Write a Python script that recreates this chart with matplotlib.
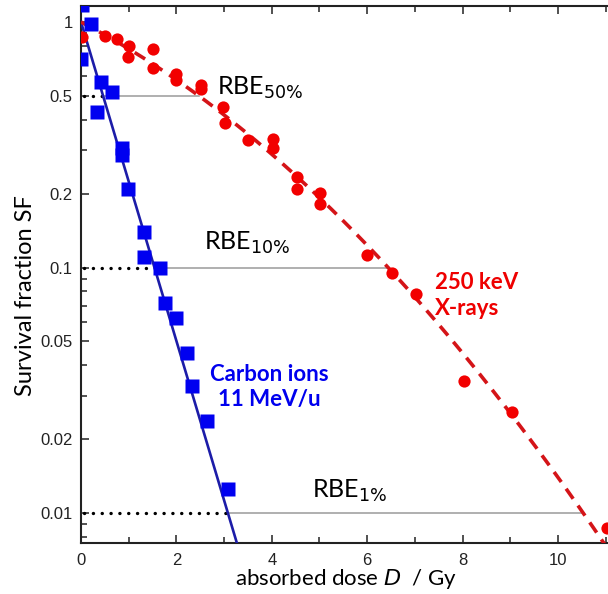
import numpy as np
import matplotlib.pyplot as plt
from matplotlib.ticker import FixedLocator, FixedFormatter, NullFormatter

# ---------------- data ----------------
# carbon ions 11 MeV/u (blue squares)
carbon_dose = [0.02, 0.21, 0.0, 0.42, 0.65, 0.34, 0.87, 0.87, 0.99, 1.32, 1.33,
               1.66, 1.76, 1.99, 2.22, 2.33, 2.65, 3.09]
carbon_sf = [1.17, 0.98, 0.71, 0.57, 0.52, 0.43, 0.307, 0.287, 0.209, 0.140, 0.110,
             0.100, 0.072, 0.0625, 0.0448, 0.0328, 0.0237, 0.0125]

# 250 keV X-rays (red circles)
xray_dose = [0.03, 0.50, 0.75, 1.0, 0.99, 1.5, 1.5, 2.0, 2.0, 2.51, 2.51, 2.98, 3.02,
             3.51, 4.02, 4.02, 4.52, 4.52, 5.01, 5.01, 6.0, 6.53, 7.02, 8.04, 9.04, 11.02]
xray_sf = [0.866, 0.877, 0.853, 0.80, 0.722, 0.776, 0.651, 0.614, 0.58, 0.553, 0.532,
           0.449, 0.389, 0.331, 0.333, 0.307, 0.233, 0.209, 0.2006, 0.181, 0.112,
           0.095, 0.078, 0.0344, 0.0259, 0.00866]

# fitted models: carbon  SF = exp(-a D), X-rays  SF = exp(-a D - b D^2)
alpha_c = 1.495
alpha_x, beta_x = 0.232, 0.0195

sf_levels = [0.5, 0.1, 0.01]
rbe_labels = ["RBE$_{50\\%}$", "RBE$_{10\\%}$", "RBE$_{1\\%}$"]

y_ticks = [0.01, 0.02, 0.05, 0.1, 0.2, 0.5, 1]
y_ticklabels = ["0.01", "0.02", "0.05", "0.1", "0.2", "0.5", "1"]
x_ticks = [0, 2, 4, 6, 8, 10]

# ---------------- figure ----------------
plt.rcParams['font.family'] = ['Lato', 'DejaVu Sans']
fig = plt.figure(figsize=(6.08, 5.94), dpi=100)
ax = fig.add_axes([0.1332, 0.0859, 0.8668, 0.904])

xmax = 11.05
ax.set_xlim(0, xmax)
ax.set_ylim(0.00755, 1.162)
ax.set_yscale('log')

# horizontal guides between the two curves
for sf in sf_levels:
    d_c = -np.log(sf) / alpha_c
    d_x = (-alpha_x + np.sqrt(alpha_x**2 - 4 * beta_x * np.log(sf))) / (2 * beta_x)
    ax.plot([d_c, d_x], [sf, sf], color='#9a9a9a', lw=1.1, zorder=1)
    ax.plot([0.06, d_c], [sf, sf], color='black', lw=2.4,
            linestyle=(0, (0.05, 2.6)), dash_capstyle='round', zorder=2)

ax.text(2.86, 0.503, rbe_labels[0], fontsize=18, ha='left', va='baseline')
ax.text(2.57, 0.1176, rbe_labels[1], fontsize=18, ha='left', va='baseline')
ax.text(4.84, 0.01148, rbe_labels[2], fontsize=18, ha='left', va='baseline')

# fitted curves
d = np.linspace(0, 3.4, 100)
ax.plot(d, np.exp(-alpha_c * d), color='#1c1ca8', lw=1.9, zorder=3)
d = np.linspace(0, 11.2, 300)
ax.plot(d, np.exp(-alpha_x * d - beta_x * d**2), color='#d41418', lw=2.6,
        linestyle=(0, (3.4, 2.3)), zorder=3)

# measured points
ax.plot(xray_dose, xray_sf, 'o', color='#f20000', ms=8.8, mec='none', zorder=4)
ax.plot(carbon_dose, carbon_sf, 's', color='#0000f0', ms=9.6, mec='none', zorder=5)

ax.text(7.42, 0.096, "250 keV\nX-rays", color='#ee0000', fontsize=16,
        fontweight='bold', ha='left', va='top', linespacing=1.3)
ax.text(3.95, 0.0405, "Carbon ions\n11 MeV/u", color='#0000ee', fontsize=16,
        fontweight='bold', ha='center', va='top', linespacing=1.25)

# axes styling
ax.spines['right'].set_visible(False)
for s in ['left', 'bottom', 'top']:
    ax.spines[s].set_linewidth(1.5)
    ax.spines[s].set_color('#222222')

ax.yaxis.set_major_locator(FixedLocator(y_ticks))
ax.yaxis.set_major_formatter(FixedFormatter(y_ticklabels))
ax.yaxis.set_minor_locator(FixedLocator(
    [k * 10.0**e for e in (-3, -2, -1) for k in range(1, 10)]))
ax.yaxis.set_minor_formatter(NullFormatter())
ax.xaxis.set_major_locator(FixedLocator(x_ticks))
ax.xaxis.set_minor_locator(FixedLocator([1, 3, 5, 7, 9, 11]))

ax.tick_params(which='both', direction='in', top=True, right=False, color='#222222',
               width=1.1, labelsize=12, labelcolor='#222222')
ax.tick_params(which='major', length=6)
ax.tick_params(axis='y', which='major', pad=6)
ax.tick_params(axis='x', which='major', pad=7)
ax.tick_params(which='minor', length=4)
for t in ax.get_xticklabels() + ax.get_yticklabels():
    t.set_family(['Liberation Sans', 'DejaVu Sans'])

ax.set_xlabel("absorbed dose $D$  / Gy", fontsize=16)
ax.xaxis.set_label_coords(0.503, -0.045)
ax.set_ylabel("Survival fraction SF", fontsize=17)
ax.yaxis.set_label_coords(-0.085, 0.46)

fig.savefig("out.png", dpi=100)
